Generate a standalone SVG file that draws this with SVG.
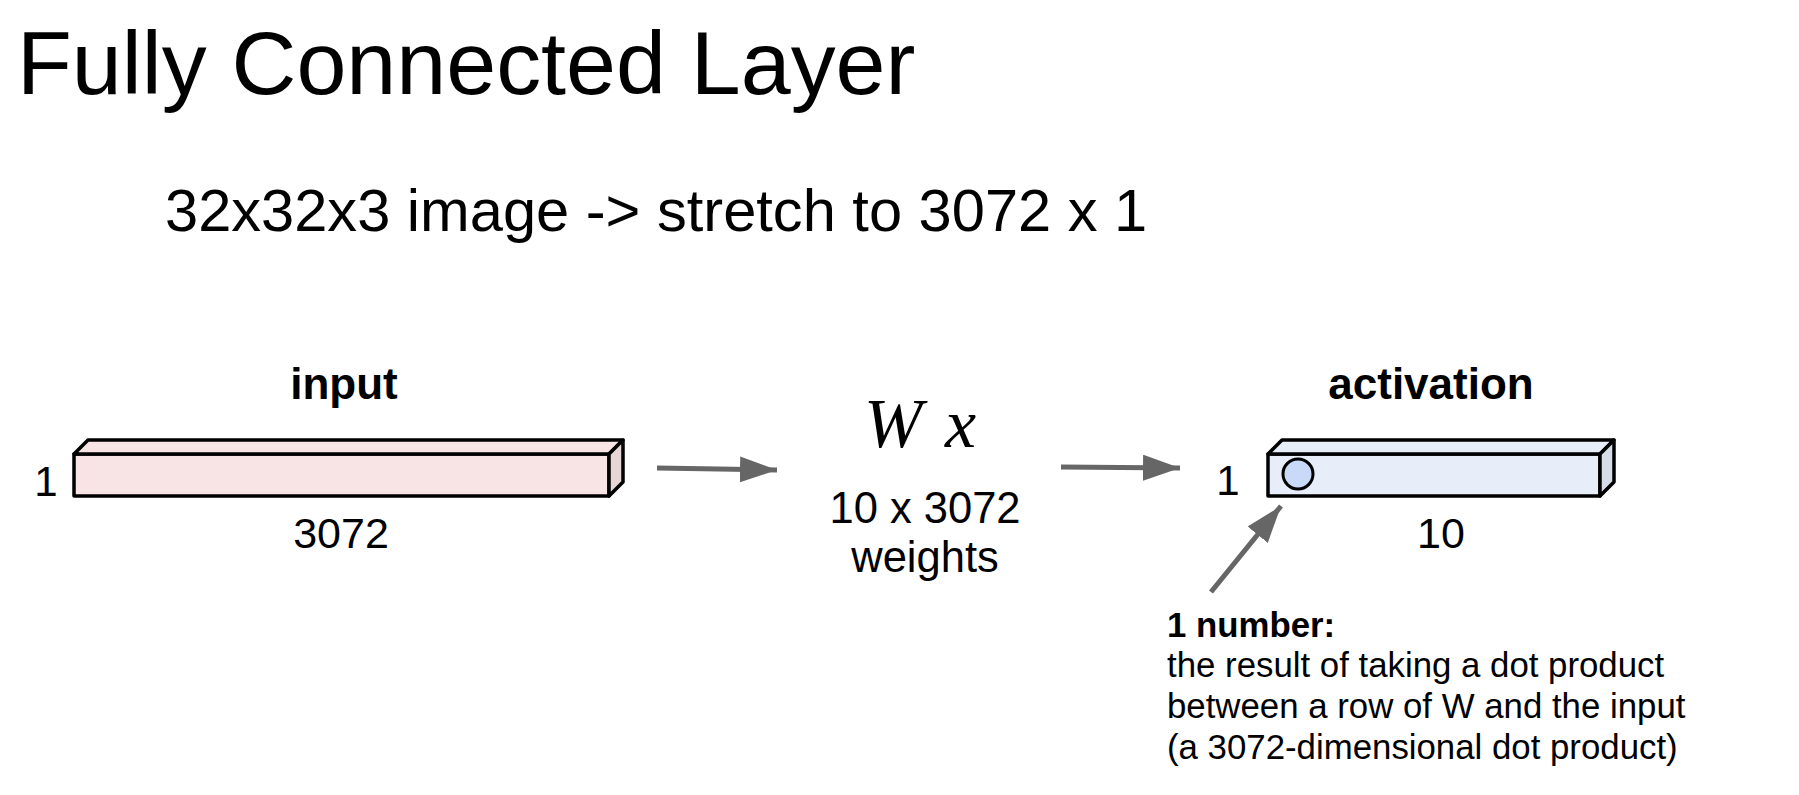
<svg xmlns="http://www.w3.org/2000/svg" width="1799" height="795" viewBox="0 0 1799 795">
<style>
.t{font-family:"Liberation Sans",Arial,sans-serif;fill:#000}
.b{font-weight:bold}
.bar{stroke:#000;stroke-width:3.5;stroke-linejoin:round}
.conn{stroke:#666;stroke-width:5;fill:none}
</style>
<defs>
<marker id="ah" markerUnits="userSpaceOnUse" markerWidth="40" markerHeight="30" refX="37" refY="13" orient="auto">
<path d="M0,0 L37,13 L0,26 z" fill="#666"/>
</marker>
</defs>
<rect width="1799" height="795" fill="#fff"/>
<g id="title">
<text class="t" x="17" y="94" font-size="89.8">Fully Connected Layer</text>
<text class="t" x="165" y="231" font-size="59.6">32x32x3 image -&gt; stretch to 3072 x 1</text>
</g>
<g id="input">
<text class="t b" x="344" y="399" font-size="44" text-anchor="middle">input</text>
<rect class="bar" x="74" y="454" width="535" height="42" fill="#f8e4e4"/>
<polygon class="bar" points="74,454 88,440 623,440 609,454" fill="#f8e4e4"/>
<polygon class="bar" points="609,454 623,440 623,482 609,496" fill="#e8d6d6"/>
<text class="t" x="46" y="496" font-size="42" text-anchor="middle">1</text>
<text class="t" x="341" y="548" font-size="43" text-anchor="middle">3072</text>
</g>
<g id="weights">
<text x="864" y="447" font-family="'Liberation Serif','Times New Roman',serif" font-style="italic" font-size="70" textLength="112" lengthAdjust="spacing">Wx</text>
<text class="t" x="925" y="523" font-size="43.5" text-anchor="middle">10 x 3072</text>
<text class="t" x="925" y="572" font-size="43.5" text-anchor="middle">weights</text>
</g>
<g id="activation">
<text class="t b" x="1431" y="399" font-size="44" text-anchor="middle">activation</text>
<rect class="bar" x="1268" y="454" width="332" height="42" fill="#e7eefa"/>
<polygon class="bar" points="1268,454 1282,440 1614,440 1600,454" fill="#e7eefa"/>
<polygon class="bar" points="1600,454 1614,440 1614,482 1600,496" fill="#d6dde8"/>
<circle cx="1298" cy="474" r="15" fill="#c9daf8" stroke="#000" stroke-width="3"/>
<text class="t" x="1228" y="495" font-size="42" text-anchor="middle">1</text>
<text class="t" x="1441" y="548" font-size="43" text-anchor="middle">10</text>
</g>
<g id="note">
<text class="t b" x="1167" y="637" font-size="34.8">1 number:</text>
<text class="t" x="1167" y="677" font-size="34.8">the result of taking a dot product</text>
<text class="t" x="1167" y="718" font-size="34.8">between a row of W and the input</text>
<text class="t" x="1167" y="759" font-size="34.8">(a 3072-dimensional dot product)</text>
</g>
<g id="connectors">
<line class="conn" x1="657" y1="468" x2="777" y2="470" marker-end="url(#ah)"/>
<line class="conn" x1="1061" y1="467" x2="1180" y2="468" marker-end="url(#ah)"/>
<line class="conn" x1="1211" y1="592" x2="1281" y2="506" marker-end="url(#ah)"/>
</g>
</svg>
